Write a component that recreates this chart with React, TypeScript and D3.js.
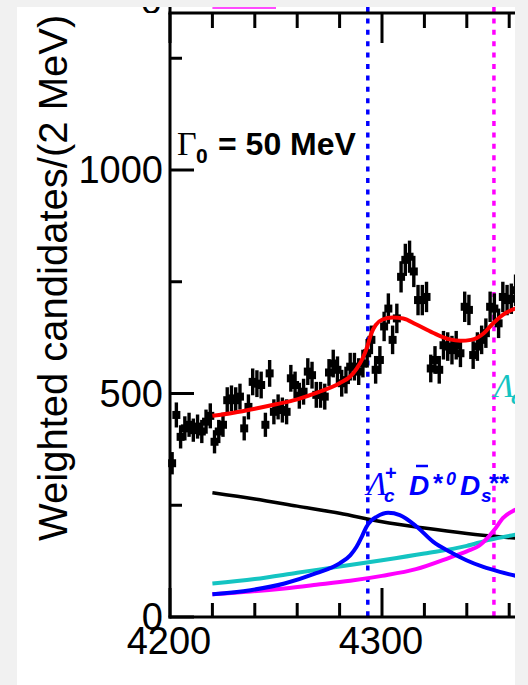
import React from "react";
import * as d3 from "d3";

const W = 528;
const H = 685;

// Histogram: 2 MeV bins starting at 4200 MeV
const binLow = 4200;
const binWidth = 2;
const counts = [
  344, 452, 403, 422, 430, 418, 426, 415, 437, 450,
  392, 415, 430, 485, 489, 485, 493, 422, 470, 526,
  522, 519, 430, 545, 459, 470, 463, 459, 534, 519,
  495, 504, 549, 541, 497, 497, 493, 547, 567, 553,
  523, 530, 560, 560, 549, 567, 590, 620, 553, 575,
  650, 690, 620, 668, 761, 799, 806, 773, 709, 709,
  716, 556, 575, 553, 608, 605, 597, 608, 590, 694,
  687, 586, 605, 620, 635, 694, 690, 657, 716, 709,
  712, 731,
];
const errors = [
  25, 28, 26, 27, 27, 26, 27, 26, 27, 28,
  26, 26, 27, 29, 29, 29, 29, 27, 28, 30,
  30, 30, 27, 30, 28, 28, 28, 28, 30, 30,
  29, 29, 30, 30, 29, 29, 29, 30, 31, 30,
  30, 30, 31, 31, 30, 31, 32, 32, 31, 31,
  33, 34, 32, 33, 35, 36, 36, 35, 34, 34,
  34, 31, 31, 31, 32, 32, 32, 32, 31, 34,
  34, 31, 32, 32, 33, 34, 34, 33, 34, 34,
  34, 35,
];

// Total fit
const totalMass = [4220, 4230, 4240, 4250, 4260, 4270, 4280, 4285, 4288, 4291, 4293, 4295, 4297, 4300, 4305, 4310, 4316, 4324, 4332, 4337, 4342, 4348, 4352, 4357, 4364];
const totalValue = [450, 457, 466, 476, 487, 503, 523, 538, 555, 580, 604, 635, 653, 665, 670, 668, 655, 636, 621, 618, 620, 635, 655, 676, 692];

// Fit components
const bkgMass = [4220, 4240, 4260, 4280, 4300, 4320, 4340, 4364];
const bkgValue = [278, 264, 248, 232, 213, 199, 187, 176];

const cyanMass = [4220, 4240, 4260, 4280, 4300, 4320, 4340, 4350, 4364];
const cyanValue = [75, 85, 99, 113, 127, 142, 159, 172, 185];

const magentaMass = [4220, 4238, 4254, 4269, 4285, 4300, 4316, 4332, 4340, 4346, 4350, 4353, 4357, 4364];
const magentaValue = [51, 57, 64, 72, 81, 92, 107, 133, 147, 160, 178, 195, 221, 242];

const blueMass = [4220, 4238, 4254, 4269, 4280, 4285, 4288, 4290.5, 4292.7, 4295, 4297.4, 4302.9, 4308.4, 4316.4, 4324.2, 4332, 4339.8, 4347.8, 4355.6, 4364];
const blueValue = [51, 60, 75, 98, 120, 138, 157, 180, 202, 216, 224, 233, 228, 202, 168, 146, 127, 112, 101, 91];

// Mass thresholds (dotted lines)
const thresholdMass = [4293.3, 4352.8];
const thresholdColor = ["#0000ff", "#ff00ff"];

// Axis ticks
const xMajorTicks = [4200, 4300];
const xMinorTicks = [4220, 4240, 4260, 4280, 4320, 4340, 4360];
const xTickLabels = ["4200", "4300"];
const yMajorTicks = [0, 500, 1000];
const yMinorTicks = [250, 750, 1250];
const yTickLabels = ["0", "500", "1000"];

const CYAN = "#14c4c2";
const SANS = "'Liberation Sans', Arial, Helvetica, sans-serif";
const SERIF = "'Liberation Serif', 'Times New Roman', serif";

export default function App() {
  const left = 170;
  const bottom = 617;
  const top = 13;
  const right = 515;

  const x = d3.scaleLinear().domain([4200, 4300]).range([170, 382]);
  const y = d3.scaleLinear().domain([0, 1000]).range([617, 170]);

  const line = (ms: number[], vs: number[]) =>
    d3
      .line<number>()
      .x((_, i) => x(ms[i]))
      .y((v) => y(v))
      .curve(d3.curveMonotoneX)(vs) || "";

  const bins = counts.map((c, i) => ({
    m: binLow + binWidth * (i + 0.5),
    c,
    e: errors[i],
  }));

  return (
    <svg
      width={W}
      height={H}
      style={{ position: "absolute", left: 0, top: 0, display: "block" }}
    >
      <defs>
        <clipPath id="visible">
          <rect x={17} y={7} width={right - 17} height={H - 7} />
        </clipPath>
        <clipPath id="topLabel">
          <rect x={17} y={7} width={200} height={6} />
        </clipPath>
      </defs>
      <rect x={0} y={0} width={W} height={H} fill="#f1f1f1" />
      <rect x={17} y={7} width={right - 17} height={H - 7} fill="#ffffff" />

      <g clipPath="url(#visible)">
        {/* neighbouring panel remnants */}
        <text
          x={162}
          y={14}
          textAnchor="end"
          fontFamily={SANS}
          fontSize={38}
          clipPath="url(#topLabel)"
        >
          0
        </text>
        <line x1={x(4220)} x2={x(4250)} y1={8} y2={8} stroke="#ff00ff" strokeWidth={2} opacity={0.7} />

        {/* Y axis title */}
        <text
          transform="translate(67,541) rotate(-90)"
          fontFamily={SANS}
          fontSize={40}
          fill="#000"
        >
          Weighted candidates/(2 MeV)
        </text>

        {/* threshold lines */}
        {thresholdMass.map((m, i) => (
          <line
            key={m}
            x1={x(m)}
            x2={x(m)}
            y1={7}
            y2={bottom}
            stroke={thresholdColor[i]}
            strokeWidth={3.5}
            strokeDasharray="5 6.4"
          />
        ))}

        {/* fit components */}
        <path d={line(bkgMass, bkgValue)} fill="none" stroke="#000" strokeWidth={3.5} />
        <path d={line(cyanMass, cyanValue)} fill="none" stroke={CYAN} strokeWidth={4} />
        <path d={line(magentaMass, magentaValue)} fill="none" stroke="#ff00ff" strokeWidth={4} />
        <path d={line(blueMass, blueValue)} fill="none" stroke="#0000ff" strokeWidth={4} />

        {/* data */}
        {bins.map((b) => (
          <g key={b.m}>
            <line
              x1={x(b.m)}
              x2={x(b.m)}
              y1={y(b.c + b.e)}
              y2={y(b.c - b.e)}
              stroke="#000"
              strokeWidth={3.4}
            />
            <rect
              x={x(b.m) - 4}
              y={y(b.c) - 4}
              width={8}
              height={8}
              fill="#000"
            />
          </g>
        ))}

        {/* total fit */}
        <path d={line(totalMass, totalValue)} fill="none" stroke="#ff0000" strokeWidth={4} />

        {/* axes */}
        <line x1={left} x2={left} y1={7} y2={bottom + 1.5} stroke="#000" strokeWidth={3} />
        <line x1={left - 1.5} x2={right + 2} y1={bottom} y2={bottom} stroke="#000" strokeWidth={3} />
        <line x1={left - 1.5} x2={right + 2} y1={top} y2={top} stroke="#000" strokeWidth={3} />
        {xMajorTicks.map((t) => (
          <g key={"xM" + t}>
            <line x1={x(t)} x2={x(t)} y1={bottom} y2={bottom - 29} stroke="#000" strokeWidth={3} />
            <line x1={x(t)} x2={x(t)} y1={top} y2={top + 30} stroke="#000" strokeWidth={3} />
          </g>
        ))}
        {xMinorTicks.map((t) => (
          <g key={"xm" + t}>
            <line x1={x(t)} x2={x(t)} y1={bottom} y2={bottom - 14} stroke="#000" strokeWidth={3} />
            <line x1={x(t)} x2={x(t)} y1={top} y2={top + 15} stroke="#000" strokeWidth={3} />
          </g>
        ))}
        {yMajorTicks.map((t) => (
          <line key={"yM" + t} x1={left} x2={left + 24} y1={y(t)} y2={y(t)} stroke="#000" strokeWidth={3} />
        ))}
        {yMinorTicks.map((t) => (
          <line key={"ym" + t} x1={left} x2={left + 12} y1={y(t)} y2={y(t)} stroke="#000" strokeWidth={3} />
        ))}

        {/* tick labels */}
        {yMajorTicks.map((t, i) => (
          <text
            key={"yl" + t}
            x={163}
            y={y(t) + 13}
            textAnchor="end"
            fontFamily={SANS}
            fontSize={38}
          >
            {yTickLabels[i]}
          </text>
        ))}
        {xMajorTicks.map((t, i) => (
          <text
            key={"xl" + t}
            x={x(t) - 1}
            y={654}
            textAnchor="middle"
            fontFamily={SANS}
            fontSize={38}
          >
            {xTickLabels[i]}
          </text>
        ))}

        {/* width annotation */}
        <text x={177} y={155} fontFamily={SERIF} fontSize={34}>
          Γ
        </text>
        <text x={196} y={163} fontFamily={SANS} fontWeight="bold" fontSize={21}>
          0
        </text>
        <text x={218} y={155} fontFamily={SANS} fontWeight="bold" fontSize={32}>
          = 50 MeV
        </text>

        {/* blue component label */}
        <g fill="#0000ff">
          <text x={367} y={495} fontFamily={SERIF} fontStyle="italic" fontSize={33}>
            Λ
          </text>
          <text x={384} y={502} fontFamily={SANS} fontStyle="italic" fontWeight="bold" fontSize={19}>
            c
          </text>
          <text x={385} y={480} fontFamily={SANS} fontWeight="bold" fontSize={20}>
            +
          </text>
          <text x={409} y={495} fontFamily={SANS} fontStyle="italic" fontWeight="bold" fontSize={28}>
            D
          </text>
          <line x1={416} x2={428} y1={466} y2={466} stroke="#0000ff" strokeWidth={2.5} />
          <text x={433} y={492} fontFamily={SANS} fontWeight="bold" fontSize={26}>
            *
          </text>
          <text x={446} y={485} fontFamily={SANS} fontStyle="italic" fontWeight="bold" fontSize={18}>
            0
          </text>
          <text x={460} y={495} fontFamily={SANS} fontStyle="italic" fontWeight="bold" fontSize={28}>
            D
          </text>
          <text x={481} y={502} fontFamily={SANS} fontStyle="italic" fontWeight="bold" fontSize={19}>
            s
          </text>
          <text x={489} y={492} fontFamily={SANS} fontWeight="bold" fontSize={26}>
            **
          </text>
        </g>

        {/* cyan component label */}
        <g fill={CYAN}>
          <text x={494} y={397} fontFamily={SERIF} fontStyle="italic" fontSize={33}>
            Λ
          </text>
          <text x={511} y={404} fontFamily={SANS} fontStyle="italic" fontWeight="bold" fontSize={19}>
            c
          </text>
        </g>
      </g>
    </svg>
  );
}
